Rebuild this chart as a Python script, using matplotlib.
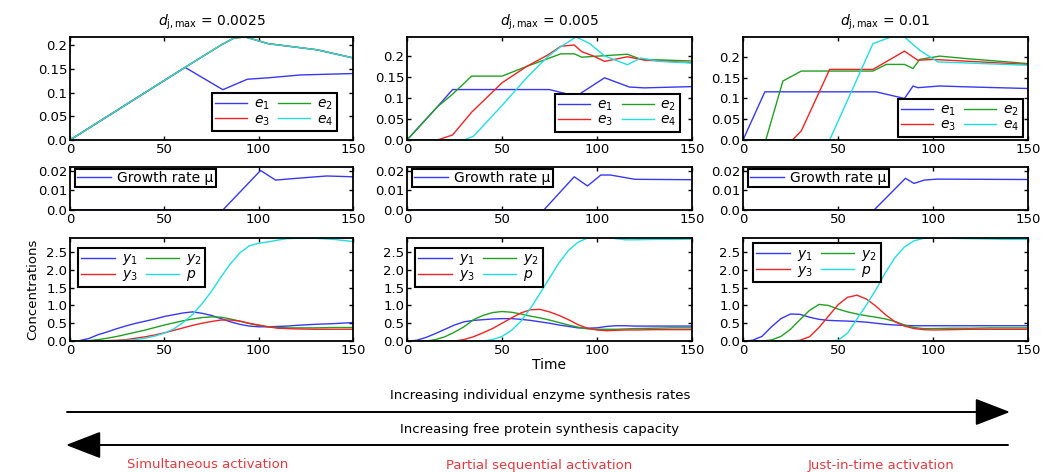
import matplotlib
matplotlib.use("Agg")
import matplotlib.pyplot as plt
from matplotlib.patches import FancyArrowPatch

plt.rcParams['font.family'] = ['DejaVu Sans']
plt.rcParams['mathtext.fontset'] = 'dejavusans'
plt.rcParams['font.size'] = 9.5

###
# Data (time, value) for each column
###
titles = [r"$d_{\mathrm{j,max}}$ = 0.0025", r"$d_{\mathrm{j,max}}$ = 0.005", r"$d_{\mathrm{j,max}}$ = 0.01"]
enzyme_labels = [r"$e_1$", r"$e_2$", r"$e_3$", r"$e_4$"]
conc_labels = [r"$y_1$", r"$y_2$", r"$y_3$", r"$p$"]

# column A: d = 0.0025
A_e1_t = [0, 61, 81, 94, 105, 122, 150]
A_e1 = [0, 0.153, 0.106, 0.128, 0.131, 0.137, 0.14]
A_e2_t = [0, 61, 80, 87, 93, 99, 105, 113, 131, 150]
A_e2 = [0, 0.153, 0.2, 0.215, 0.217, 0.21, 0.203, 0.199, 0.19, 0.173]
A_e3_t = A_e2_t
A_e3 = A_e2
A_e4_t = A_e2_t
A_e4 = A_e2
A_mu_t = [0, 81, 101, 109, 120, 136, 150]
A_mu = [0, 0, 0.0202, 0.0153, 0.0162, 0.0174, 0.017]
A_y_t = [0, 5, 10, 15, 20, 25, 30, 35, 40, 45, 50, 55, 60, 65, 70, 75, 80, 85, 90, 95,
         100, 105, 110, 115, 120, 130, 140, 150]
A_y1 = [0, 0.01, 0.07, 0.18, 0.26, 0.35, 0.43, 0.5, 0.56, 0.62, 0.69, 0.74, 0.79, 0.82, 0.78,
        0.72, 0.63, 0.54, 0.47, 0.42, 0.4, 0.4, 0.41, 0.42, 0.44, 0.47, 0.49, 0.52]
A_y2 = [0, 0, 0.01, 0.04, 0.08, 0.13, 0.19, 0.25, 0.31, 0.38, 0.45, 0.51, 0.57, 0.62, 0.66,
        0.68, 0.67, 0.62, 0.56, 0.49, 0.44, 0.4, 0.38, 0.37, 0.37, 0.37, 0.38, 0.38]
A_y3 = [0, 0, 0, 0, 0.01, 0.02, 0.04, 0.08, 0.12, 0.17, 0.23, 0.3, 0.37, 0.44, 0.5,
        0.55, 0.59, 0.59, 0.56, 0.5, 0.45, 0.4, 0.36, 0.35, 0.34, 0.33, 0.33, 0.33]
A_p = [0, 0, 0, 0, 0, 0.01, 0.02, 0.04, 0.08, 0.14, 0.22, 0.34, 0.52, 0.75, 1.05,
       1.4, 1.8, 2.17, 2.48, 2.68, 2.75, 2.79, 2.84, 2.88, 2.89, 2.89, 2.86, 2.8]

# column B: d = 0.005
B_e1_t = [0, 16, 24, 75, 89, 104, 117, 125, 150]
B_e1 = [0, 0.079, 0.12, 0.12, 0.104, 0.148, 0.126, 0.124, 0.127]
B_e2_t = [0, 16, 24, 34, 50, 63, 81, 88, 92, 102, 116, 123, 150]
B_e2 = [0, 0.079, 0.109, 0.152, 0.152, 0.175, 0.205, 0.205, 0.197, 0.2, 0.204, 0.192, 0.188]
B_e3_t = [0, 16, 24, 34, 50, 63, 74, 81, 88, 92, 98, 104, 116, 125, 150]
B_e3 = [0, 0, 0.012, 0.066, 0.136, 0.175, 0.202, 0.223, 0.226, 0.21, 0.2, 0.187, 0.198, 0.19, 0.184]
B_e4_t = [0, 30, 35, 50, 63, 74, 81, 89, 96, 104, 116, 123, 133, 150]
B_e4 = [0, 0, 0.009, 0.082, 0.148, 0.198, 0.222, 0.245, 0.23, 0.2, 0.179, 0.195, 0.187, 0.183]
B_mu_t = [0, 72, 88, 95, 102, 107, 120, 150]
B_mu = [0, 0, 0.017, 0.0123, 0.0179, 0.0179, 0.0157, 0.0155]
B_y_t = [0, 5, 10, 15, 20, 25, 30, 35, 40, 45, 50, 55, 60, 65, 70, 75, 80, 85, 90, 95,
         100, 105, 110, 115, 120, 130, 140, 150]
B_y1 = [0, 0.02, 0.1, 0.21, 0.33, 0.45, 0.54, 0.58, 0.6, 0.62, 0.63, 0.63, 0.61, 0.58, 0.54,
        0.5, 0.45, 0.41, 0.37, 0.36, 0.37, 0.41, 0.43, 0.43, 0.42, 0.42, 0.42, 0.42]
B_y2 = [0, 0, 0, 0.04, 0.12, 0.25, 0.4, 0.6, 0.72, 0.8, 0.83, 0.81, 0.76, 0.7, 0.65,
        0.59, 0.52, 0.45, 0.39, 0.34, 0.33, 0.33, 0.33, 0.34, 0.35, 0.36, 0.37, 0.37]
B_y3 = [0, 0, 0, 0, 0, 0, 0.04, 0.12, 0.23, 0.35, 0.5, 0.65, 0.79, 0.88, 0.89,
        0.82, 0.72, 0.6, 0.46, 0.36, 0.31, 0.29, 0.3, 0.31, 0.31, 0.32, 0.32, 0.32]
B_p = [0, 0, 0, 0, 0, 0, 0, 0, 0, 0.04, 0.13, 0.3, 0.56, 0.92, 1.34,
       1.77, 2.2, 2.55, 2.78, 2.9, 2.93, 2.92, 2.88, 2.85, 2.85, 2.86, 2.86, 2.87]

# column C: d = 0.01
C_e1_t = [0, 11.5, 70, 85, 89.5, 92, 103.5, 117.5, 150]
C_e1 = [0, 0.116, 0.116, 0.1, 0.13, 0.126, 0.13, 0.128, 0.124]
C_e2_t = [0, 12, 21, 30.7, 68.4, 75.4, 85, 89.5, 93, 103.5, 117.5, 150]
C_e2 = [0, 0, 0.142, 0.166, 0.166, 0.182, 0.182, 0.172, 0.194, 0.202, 0.196, 0.184]
C_e3_t = [0, 26, 30.7, 45.6, 68.4, 85, 92, 100, 150]
C_e3 = [0, 0, 0.022, 0.17, 0.17, 0.214, 0.192, 0.194, 0.182]
C_e4_t = [0, 45.6, 68.4, 79, 85, 93, 102.6, 150]
C_e4 = [0, 0, 0.232, 0.25, 0.248, 0.216, 0.188, 0.18]
C_mu_t = [0, 69, 85.5, 90, 95.4, 102, 150]
C_mu = [0, 0, 0.0162, 0.0136, 0.0153, 0.0158, 0.0156]
C_y_t = [0, 5, 10, 15, 20, 25, 30, 35, 40, 45, 50, 55, 60, 65, 70, 75, 80, 85, 90, 95,
         100, 110, 120, 130, 140, 150]
C_y1 = [0, 0.02, 0.13, 0.4, 0.63, 0.76, 0.75, 0.67, 0.61, 0.58, 0.57, 0.56, 0.55, 0.53, 0.5,
        0.47, 0.45, 0.44, 0.43, 0.43, 0.43, 0.43, 0.43, 0.43, 0.43, 0.43]
C_y2 = [0, 0, 0, 0.03, 0.13, 0.33, 0.6, 0.86, 1.03, 1.0, 0.9, 0.82, 0.76, 0.71, 0.67,
        0.62, 0.55, 0.45, 0.38, 0.35, 0.35, 0.36, 0.36, 0.37, 0.37, 0.37]
C_y3 = [0, 0, 0, 0, 0, 0, 0.02, 0.12, 0.38, 0.7, 1.02, 1.23, 1.29, 1.18, 0.98,
        0.74, 0.54, 0.42, 0.35, 0.32, 0.31, 0.32, 0.33, 0.33, 0.33, 0.33]
C_p = [0, 0, 0, 0, 0, 0, 0, 0, 0, 0, 0.02, 0.22, 0.62, 1.02, 1.45,
       1.93, 2.35, 2.65, 2.82, 2.89, 2.9, 2.89, 2.88, 2.87, 2.86, 2.86]

colors = ['#3838f2', '#22a022', '#f02424', '#22dede']
red_text = '#e23a40'

###
# Layout (pixel boxes of the reference)
###
W, H = 1042, 472
fig = plt.figure(figsize=(W / 100, H / 100), dpi=100)

cols = [(70, 353), (407, 692), (743, 1028)]
rows = [(37, 140), (167, 210), (238, 341)]

# legend anchors in axes fraction
top_leg_anchor = [(0.943, 0.087), (0.958, 0.078), (0.982, 0.03)]
bot_leg_anchor = [(0.028, 0.903), (0.028, 0.903), (0.035, 0.951)]


def box(c, r):
    x0, x1 = c
    y0, y1 = r
    return [x0 / W, 1 - y1 / H, (x1 - x0) / W, (y1 - y0) / H]


def style(ax):
    ax.set_xlim(0, 150)
    ax.set_xticks([0, 50, 100, 150])
    ax.tick_params(direction='in', top=True, right=True, length=3, width=1, pad=2)
    for s in ax.spines.values():
        s.set_linewidth(1.3)


def leg(ax, order=None, **kw):
    opts = dict(frameon=True, fancybox=False, framealpha=1, edgecolor='black',
                borderpad=0.25, labelspacing=0.0, handletextpad=0.5)
    opts.update(kw)
    h, l = ax.get_legend_handles_labels()
    if order:
        # matplotlib fills columns first; the reference reads row by row
        h = [h[k] for k in order]
        l = [l[k] for k in order]
    L = ax.legend(h, l, **opts)
    L.get_frame().set_linewidth(1.5)
    return L


enz = [
    [(A_e1_t, A_e1), (A_e2_t, A_e2), (A_e3_t, A_e3), (A_e4_t, A_e4)],
    [(B_e1_t, B_e1), (B_e2_t, B_e2), (B_e3_t, B_e3), (B_e4_t, B_e4)],
    [(C_e1_t, C_e1), (C_e2_t, C_e2), (C_e3_t, C_e3), (C_e4_t, C_e4)],
]
mus = [(A_mu_t, A_mu), (B_mu_t, B_mu), (C_mu_t, C_mu)]
concs = [
    (A_y_t, [A_y1, A_y2, A_y3, A_p]),
    (B_y_t, [B_y1, B_y2, B_y3, B_p]),
    (C_y_t, [C_y1, C_y2, C_y3, C_p]),
]
top_ylim = [0.217, 0.245, 0.248]

for i in range(3):
    # enzymes
    ax = fig.add_axes(box(cols[i], rows[0]))
    for (t, v), col, lab in zip(enz[i], colors, enzyme_labels):
        ax.plot(t, v, color=col, lw=1, label=lab)
    style(ax)
    ax.set_ylim(0, top_ylim[i])
    ax.set_yticks([0, 0.05, 0.1, 0.15, 0.2])
    ax.set_yticklabels(['0.0', '0.05', '0.1', '0.15', '0.2'])
    ax.set_title(titles[i], fontsize=10, pad=8)
    leg(ax, order=[0, 2, 1, 3], ncol=2, loc='lower right', fontsize=10,
        handlelength=2.3, columnspacing=0.6, borderaxespad=0,
        bbox_to_anchor=top_leg_anchor[i])

    # growth rate
    ax = fig.add_axes(box(cols[i], rows[1]))
    t, v = mus[i]
    ax.plot(t, v, color=colors[0], lw=1, label='Growth rate μ')
    style(ax)
    ax.set_ylim(0, 0.022)
    ax.set_yticks([0, 0.01, 0.02])
    ax.set_yticklabels(['0.0', '0.01', '0.02'])
    leg(ax, loc='upper left', fontsize=10, handlelength=2.4, borderaxespad=0,
        borderpad=0.15, bbox_to_anchor=(0.018, 0.95))

    # concentrations
    ax = fig.add_axes(box(cols[i], rows[2]))
    t, series = concs[i]
    for v, col, lab in zip(series, colors, conc_labels):
        ax.plot(t, v, color=col, lw=1, label=lab)
    style(ax)
    ax.set_ylim(0, 2.9)
    ax.set_yticks([0, 0.5, 1.0, 1.5, 2.0, 2.5])
    ax.set_yticklabels(['0.0', '0.5', '1.0', '1.5', '2.0', '2.5'])
    leg(ax, order=[0, 2, 1, 3], ncol=2, loc='upper left', fontsize=10,
        handlelength=2.4, columnspacing=0.6, borderaxespad=0,
        bbox_to_anchor=bot_leg_anchor[i])
    if i == 0:
        ax.set_ylabel('Concentrations', fontsize=9.5, labelpad=5)
    if i == 1:
        ax.set_xlabel('Time', fontsize=10, labelpad=1)

###
# Arrows and annotations below the grid
###
fig.text(540 / W, 1 - 395 / H, 'Increasing individual enzyme synthesis rates',
         ha='center', va='center', fontsize=9.5)
fig.text(540 / W, 1 - 429 / H, 'Increasing free protein synthesis capacity',
         ha='center', va='center', fontsize=9.5)

arrow = dict(arrowstyle='-|>,head_length=2.2,head_width=0.85', color='black',
             lw=1.4, mutation_scale=10, shrinkA=0, shrinkB=0)
fig.add_artist(FancyArrowPatch((67, H - 412), (1010, H - 412), transform=None, **arrow))
fig.add_artist(FancyArrowPatch((1008, H - 445), (66, H - 445), transform=None, **arrow))

for x, s in [(208, 'Simultaneous activation'), (539, 'Partial sequential activation'),
             (881, 'Just-in-time activation')]:
    fig.text(x / W, 1 - 465 / H, s, ha='center', va='center', fontsize=9.5, color=red_text)

fig.savefig('out.png', dpi=100)
